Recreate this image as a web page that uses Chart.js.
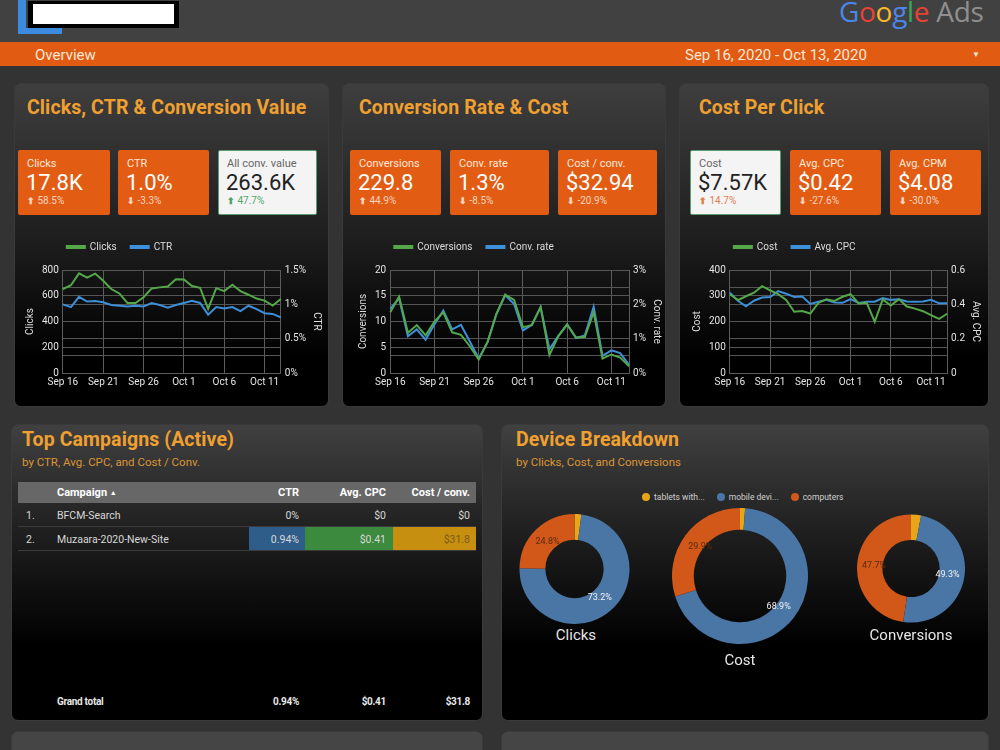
<!DOCTYPE html>
<html><head><meta charset="utf-8">
<script src="https://cdn.jsdelivr.net/npm/chart.js@4.4.1/dist/chart.umd.min.js"></script>
<style>
*{margin:0;padding:0;box-sizing:border-box}
html,body{width:1000px;height:750px;overflow:hidden;background:#333;font-family:Roboto,"Noto Sans",sans-serif;position:relative}
.a{position:absolute}
.panel{position:absolute;border-radius:7px;background:linear-gradient(#3e3e3e 0%,#202020 45%,#000 85%);border:1px solid #3a3a3a}
.ptitle{position:absolute;color:#f0a030;font-weight:bold;font-size:19.5px;white-space:nowrap;letter-spacing:0.1px}
.psub{position:absolute;color:#dc9434;font-size:11.5px;white-space:nowrap}
.card{position:absolute;top:150px;height:65px;background:#e35c13;border-radius:2px;color:#fff}
.card .l{position:absolute;left:9px;top:7px;font-size:11px;color:#fbe8da;white-space:nowrap}
.card .v{position:absolute;left:8px;top:20px;font-size:22px;line-height:26px;white-space:nowrap}
.card .c{position:absolute;left:9px;top:45px;font-size:10px;color:#f6d4c0;white-space:nowrap}
.card .c b{font-size:9px}
.card.w{background:#f4f4f4;border:1.5px solid #5a9e6e}
.card.w .l{color:#666;left:8px;top:6px}
.card.w .v{color:#222;left:7px;top:19px}
.card.w .c{left:8px;top:44px}
.up{color:#9fb85a}
.box{position:absolute}
.trow{position:absolute;left:18px;width:458px;font-size:10.5px;color:#d8d8d8}
.trow div{position:absolute;top:0;white-space:nowrap}
</style></head>
<body>
<!-- header -->
<div class="a" style="left:0;top:0;width:1000px;height:42px;background:#414141"></div>
<div class="a" style="left:18px;top:0;width:8px;height:34px;background:#3b8ce0"></div>
<div class="a" style="left:18px;top:28px;width:44px;height:6px;background:#3b8ce0"></div>
<div class="a" style="left:28px;top:1px;width:151px;height:27px;background:#000"></div>
<div class="a" style="left:33px;top:4px;width:141px;height:20px;background:#fff"></div>
<div class="a" style="left:839px;top:-8px;font-size:28px;font-family:'Open Sans',Roboto,sans-serif;letter-spacing:-0.3px;white-space:nowrap"><span style="color:#4a86e8">G</span><span style="color:#e94235">o</span><span style="color:#f7b928">o</span><span style="color:#4a86e8">g</span><span style="color:#3aa757">l</span><span style="color:#e94235">e</span> <span style="color:#8f8f8f">Ads</span></div>
<div class="a" style="left:0;top:42px;width:1000px;height:24px;background:#e15b13"></div>
<div class="a" style="left:35px;top:46px;font-size:15px;color:#fbe6d6">Overview</div>
<div class="a" style="left:685px;top:46px;font-size:15px;color:#fbe6d6;letter-spacing:0px">Sep 16, 2020 - Oct 13, 2020</div>
<div class="a" style="left:972px;top:50px;font-size:8px;color:#fbe6d6">▼</div>

<!-- row 1 panels -->
<div class="panel" style="left:14px;top:83px;width:315px;height:324px"></div>
<div class="panel" style="left:342px;top:83px;width:324px;height:324px"></div>
<div class="panel" style="left:679px;top:83px;width:310px;height:324px"></div>
<div class="ptitle" style="left:27px;top:96px">Clicks, CTR &amp; Conversion Value</div>
<div class="ptitle" style="left:359px;top:96px">Conversion Rate &amp; Cost</div>
<div class="ptitle" style="left:699px;top:96px">Cost Per Click</div>

<div class="card" style="left:18px;width:92px"><div class="l">Clicks</div><div class="v">17.8K</div><div class="c up"><b>⬆</b> 58.5%</div></div>
<div class="card" style="left:118px;width:91px"><div class="l">CTR</div><div class="v">1.0%</div><div class="c"><b>⬇</b> -3.3%</div></div>
<div class="card w" style="left:218px;width:99px"><div class="l">All conv. value</div><div class="v">263.6K</div><div class="c" style="color:#4fa56a"><b>⬆</b> 47.7%</div></div>

<div class="card" style="left:350px;width:91px"><div class="l">Conversions</div><div class="v">229.8</div><div class="c up"><b>⬆</b> 44.9%</div></div>
<div class="card" style="left:450px;width:99px"><div class="l">Conv. rate</div><div class="v">1.3%</div><div class="c"><b>⬇</b> -8.5%</div></div>
<div class="card" style="left:558px;width:99px"><div class="l">Cost / conv.</div><div class="v">$32.94</div><div class="c"><b>⬇</b> -20.9%</div></div>

<div class="card w" style="left:690px;width:91px"><div class="l">Cost</div><div class="v">$7.57K</div><div class="c" style="color:#e2804a"><b>⬆</b> 14.7%</div></div>
<div class="card" style="left:790px;width:91px"><div class="l">Avg. CPC</div><div class="v">$0.42</div><div class="c"><b>⬇</b> -27.6%</div></div>
<div class="card" style="left:890px;width:91px"><div class="l">Avg. CPM</div><div class="v">$4.08</div><div class="c"><b>⬇</b> -30.0%</div></div>

<div class="box" style="left:16px;top:236px;width:312px;height:160px"><canvas id="c1"></canvas></div>
<div class="box" style="left:345px;top:236px;width:321px;height:160px"><canvas id="c2"></canvas></div>
<div class="box" style="left:681px;top:236px;width:306px;height:160px"><canvas id="c3"></canvas></div>

<!-- row 2 panels -->
<div class="panel" style="left:11px;top:424px;width:472px;height:297px;background:linear-gradient(#404040 0%,#1c1c1c 40%,#000 75%)"></div>
<div class="panel" style="left:501px;top:424px;width:488px;height:297px;background:linear-gradient(#404040 0%,#1c1c1c 40%,#000 75%)"></div>
<div class="ptitle" style="left:22px;top:428px">Top Campaigns (Active)</div>
<div class="psub" style="left:22px;top:455px">by CTR, Avg. CPC, and Cost / Conv.</div>
<div class="ptitle" style="left:516px;top:428px">Device Breakdown</div>
<div class="psub" style="left:516px;top:455px">by Clicks, Cost, and Conversions</div>

<div id="table"></div>

<div class="a" style="left:642px;top:492px;font-size:8.5px;color:#d0d0d0;white-space:nowrap;display:flex;align-items:center" id="dleg"></div>

<div class="box" style="left:519px;top:514px;width:111px;height:110px"><canvas id="d1"></canvas></div>
<div class="box" style="left:672px;top:508px;width:136px;height:136px"><canvas id="d2"></canvas></div>
<div class="box" style="left:857px;top:514px;width:108px;height:109px"><canvas id="d3"></canvas></div>
<div class="a" style="left:526px;top:626px;width:100px;text-align:center;font-size:15px;color:#e6e6e6">Clicks</div>
<div class="a" style="left:690px;top:651px;width:100px;text-align:center;font-size:15px;color:#e6e6e6">Cost</div>
<div class="a" style="left:861px;top:626px;width:100px;text-align:center;font-size:15px;color:#e6e6e6">Conversions</div>

<!-- row 3 panels (cut off) -->
<div class="panel" style="left:11px;top:731px;width:472px;height:40px;background:#454545"></div>
<div class="panel" style="left:501px;top:731px;width:488px;height:40px;background:#454545"></div>

<script>
const dates = ['Sep 16','Sep 17','Sep 18','Sep 19','Sep 20','Sep 21','Sep 22','Sep 23','Sep 24','Sep 25','Sep 26','Sep 27','Sep 28','Sep 29','Sep 30','Oct 1','Oct 2','Oct 3','Oct 4','Oct 5','Oct 6','Oct 7','Oct 8','Oct 9','Oct 10','Oct 11','Oct 12','Oct 13'];
const clicks = [652,682,774,741,772,716,652,618,544,544,588,657,665,672,728,726,675,662,498,659,636,685,636,608,578,562,524,575];
const ctr = [1.00,0.96,1.11,1.04,1.05,1.03,0.99,0.98,0.97,0.98,0.97,1.02,0.99,0.95,0.99,1.02,1.05,1.02,0.85,0.96,0.94,0.96,0.90,0.98,0.93,0.87,0.86,0.81];
const conversions = [11.8,14.8,7.8,9.3,7.3,10.0,11.8,7.9,7.4,5.2,2.6,6.0,11.5,15.2,14.2,8.9,9.3,12.8,3.5,7.1,9.4,6.9,7.0,11.8,2.8,3.6,3.0,1.3];
const convRate = [1.87,2.18,1.07,1.27,0.97,1.42,1.82,1.27,1.40,0.92,0.42,0.90,1.71,2.27,2.01,1.24,1.40,1.92,0.69,1.08,1.42,1.02,1.09,1.93,0.50,0.66,0.58,0.24];
const cost = [306,283,298,312,337,321,306,284,238,241,231,272,286,280,296,306,270,273,199,286,262,287,258,250,240,225,210,230];
const avgCpc = [0.468,0.421,0.389,0.421,0.440,0.443,0.477,0.462,0.443,0.445,0.402,0.415,0.426,0.411,0.409,0.430,0.408,0.415,0.415,0.436,0.426,0.430,0.417,0.415,0.417,0.426,0.406,0.406];
const xTickEvery = 5;

const deviceLabels = ['tablets with...','mobile devi...','computers'];
const deviceClicks = [2.0,73.2,24.8];
const deviceCost = [1.2,68.9,29.9];
const deviceConversions = [3.0,49.3,47.7];
const deviceColors = ['#e8a516','#4a76a6','#d2581a'];

const tableHeader = ['Campaign','CTR','Avg. CPC','Cost / conv.'];
const campaigns = ['BFCM-Search','Muzaara-2020-New-Site'];
const campCtr = ['0%','0.94%'];
const campCpc = ['$0','$0.41'];
const campCost = ['$0','$31.8'];
const grandTotal = ['0.94%','$0.41','$31.8'];

Chart.defaults.font.family = 'Roboto, "Noto Sans", sans-serif';

// ---------- table ----------
(function(){
  const t = document.getElementById('table');
  let h = '';
  h += '<div class="a" style="left:18px;top:482px;width:458px;height:21px;background:#676767"></div>';
  h += '<div class="trow" style="top:486px;font-weight:bold;color:#fff;font-size:11px">'+
       '<div style="left:39px">'+tableHeader[0]+' <span style="font-size:7px;position:relative;top:-1px">▲</span></div>'+
       '<div style="right:177px">'+tableHeader[1]+'</div>'+
       '<div style="right:90px">'+tableHeader[2]+'</div>'+
       '<div style="right:6px">'+tableHeader[3]+'</div></div>';
  const rowTops = [503,527];
  campaigns.forEach((c,i)=>{
    const top = rowTops[i];
    h += '<div class="a" style="left:18px;top:'+(top+23)+'px;width:458px;height:1px;background:#3c3c3c"></div>';
    if(i===1){
      h += '<div class="a" style="left:249px;top:'+top+'px;width:56px;height:23px;background:#2f5d8a"></div>';
      h += '<div class="a" style="left:305px;top:'+top+'px;width:88px;height:23px;background:#3b8a3e"></div>';
      h += '<div class="a" style="left:393px;top:'+top+'px;width:83px;height:23px;background:#c68f10"></div>';
    }
    h += '<div class="trow" style="top:'+(top+6)+'px">'+
      '<div style="left:8px">'+(i+1)+'.</div>'+
      '<div style="left:39px">'+c+'</div>'+
      '<div style="right:177px">'+campCtr[i]+'</div>'+
      '<div style="right:90px">'+campCpc[i]+'</div>'+
      '<div style="right:6px;'+(i===1?'color:#7c5a16':'')+'">'+campCost[i]+'</div></div>';
  });
  h += '<div class="trow" style="top:696px;font-weight:bold;font-size:10px;color:#e8e8e8;letter-spacing:-0.3px">'+
    '<div style="left:39px">Grand total</div>'+
    '<div style="right:177px">'+grandTotal[0]+'</div>'+
    '<div style="right:90px">'+grandTotal[1]+'</div>'+
    '<div style="right:6px">'+grandTotal[2]+'</div></div>';
  t.innerHTML = h;
  const dl = document.getElementById('dleg');
  dl.innerHTML = deviceLabels.map((l,i)=>'<span style="display:inline-block;width:8px;height:8px;border-radius:50%;background:'+deviceColors[i]+';margin-right:4px"></span><span style="margin-right:12px">'+l+'</span>').join('');
})();

// ---------- line charts ----------
const legendShift = {
  id:'legendShift',
  afterLayout(chart){
    const lg = chart.legend; if(!lg) return;
    const w = lg.right - lg.left;
    lg.left = chart.chartArea.left - 10;
    lg.right = lg.left + w;
    lg.top -= 8; lg.bottom -= 8;
  }
};

function lineChart(id, s1, s2, y1, y2, pad){
  const green = '#55a84a', blue = '#3c8fd8';
  return new Chart(document.getElementById(id), {
    type:'line',
    data:{labels:dates, datasets:[
      {label:s1.name, data:s1.data, borderColor:green, backgroundColor:green, borderWidth:2, pointRadius:0, tension:0, yAxisID:'y'},
      {label:s2.name, data:s2.data, borderColor:blue, backgroundColor:blue, borderWidth:2, pointRadius:0, tension:0, yAxisID:'y2'}
    ]},
    plugins:[legendShift],
    options:{
      responsive:true, maintainAspectRatio:false, animation:false,
      layout:{padding:pad},
      plugins:{
        legend:{position:'top', align:'start', labels:{boxWidth:18, boxHeight:2, color:'#dddddd', font:{size:10}, padding:14}},
        tooltip:{enabled:false}
      },
      scales:{
        x:{
          offset:false,
          ticks:{autoSkip:false, maxRotation:0, color:'#e4e4e4', font:{size:10}, padding:3,
            callback:(v,i)=> i % xTickEvery === 0 ? dates[i] : ''},
          grid:{color:(c)=> (c.index % xTickEvery === 0) ? '#5c5c5c' : 'rgba(0,0,0,0)', drawTicks:false},
          border:{color:'#5c5c5c'}
        },
        y:{
          position:'left', min:0, max:y1.max,
          ticks:{stepSize:y1.step, color:'#e4e4e4', font:{size:10}, padding:4},
          grid:{color:'#555', drawTicks:false},
          border:{color:'#5c5c5c'},
          title:{display:true, text:y1.title, color:'#dddddd', font:{size:10}, padding:{top:0,bottom:2}}
        },
        y2:{
          position:'right', min:0, max:y2.max,
          ticks:{stepSize:y2.step, color:'#e4e4e4', font:{size:10}, padding:4, callback:y2.fmt},
          grid:{color:'#555', drawTicks:false},
          border:{color:'#5c5c5c'},
          title:{display:true, text:y2.title, color:'#dddddd', font:{size:10}, padding:{top:2,bottom:0}}
        }
      }
    }
  });
}

lineChart('c1', {name:'Clicks', data:clicks}, {name:'CTR', data:ctr},
  {max:800, step:200, title:'Clicks'},
  {max:1.5, step:0.25, title:'CTR', fmt:(v)=> (Math.round(v*4) % 2 === 0) ? (+v.toFixed(2))+'%' : ''},
  {left:8, right:4, top:0, bottom:5});

lineChart('c2', {name:'Conversions', data:conversions}, {name:'Conv. rate', data:convRate},
  {max:20, step:5, title:'Conversions'},
  {max:3, step:0.5, title:'Conv. rate', fmt:(v)=> (Math.round(v*2) % 2 === 0) ? Math.round(v)+'%' : ''},
  {left:12, right:2, top:0, bottom:5});

lineChart('c3', {name:'Cost', data:cost}, {name:'Avg. CPC', data:avgCpc},
  {max:400, step:100, title:'Cost'},
  {max:0.6, step:0.1, title:'Avg. CPC', fmt:(v)=> { const k=Math.round(v*10); return k%2===0 ? (k===0?'0':(k/10).toFixed(1)) : ''; }},
  {left:10, right:4, top:0, bottom:5});

// ---------- doughnuts ----------
function donut(id, data, cutout, labelFrac){
  const labelPlugin = {
    id:'sliceLabels',
    afterDatasetsDraw(chart){
      const ctx = chart.ctx;
      const meta = chart.getDatasetMeta(0);
      const total = data.reduce((a,b)=>a+b,0);
      ctx.save();
      ctx.font = '9px Roboto, sans-serif';
      ctx.textAlign = 'center'; ctx.textBaseline = 'middle';
      meta.data.forEach((arc,i)=>{
        const pct = data[i]/total*100;
        if(pct < 5) return;
        const p = arc.getProps(['x','y','startAngle','endAngle','innerRadius','outerRadius'], true);
        const mid = (p.startAngle + p.endAngle)/2;
        const r = p.innerRadius + (p.outerRadius - p.innerRadius)*labelFrac;
        ctx.fillStyle = i===1 ? '#f2f2f2' : '#5a2a0c';
        ctx.fillText(pct.toFixed(1)+'%', p.x + Math.cos(mid)*r, p.y + Math.sin(mid)*r);
      });
      ctx.restore();
    }
  };
  return new Chart(document.getElementById(id), {
    type:'doughnut',
    data:{labels:deviceLabels, datasets:[{data:data, backgroundColor:deviceColors, borderWidth:0}]},
    plugins:[labelPlugin],
    options:{responsive:true, maintainAspectRatio:false, animation:false, cutout:cutout,
      layout:{padding:0},
      plugins:{legend:{display:false}, tooltip:{enabled:false}}}
  });
}
donut('d1', deviceClicks, '53%', 0.36);
donut('d2', deviceCost, '68%', 0.14);
donut('d3', deviceConversions, '53%', 0.33);
</script>
</body></html>
